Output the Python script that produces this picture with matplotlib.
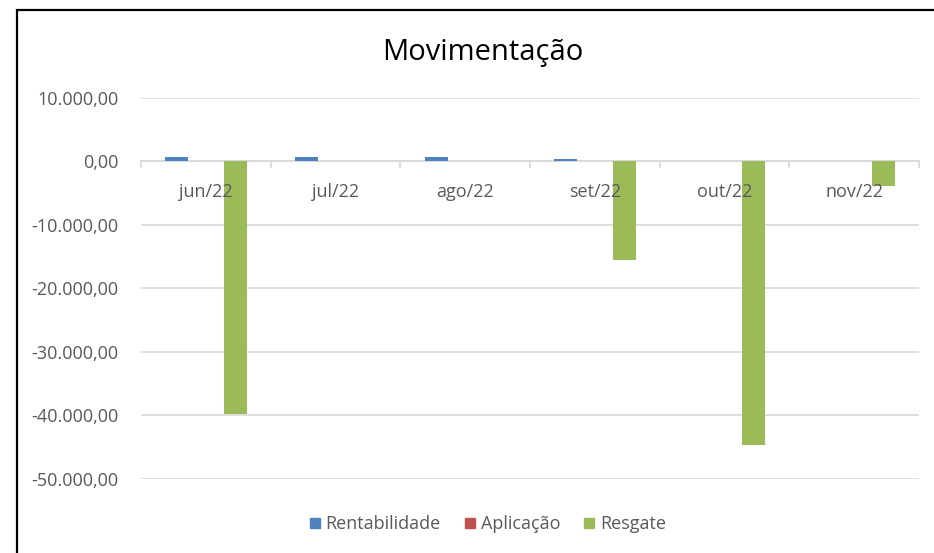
import numpy as np
import matplotlib.pyplot as plt
from matplotlib.ticker import FuncFormatter
from matplotlib.patches import Rectangle
from matplotlib.lines import Line2D

meses = ['jun/22', 'jul/22', 'ago/22', 'set/22', 'out/22', 'nov/22']
rentabilidade = [650, 650, 650, 350, 80, 80]
aplicacao = [0, 0, 0, 0, 0, 0]
resgate = [-39800, 0, 0, -15460, -44650, -3860]

series = ['Rentabilidade', 'Aplicação', 'Resgate']
cores = ['#4f81bd', '#c0504d', '#9bbb59']

plt.rcParams['font.family'] = ['Open Sans', 'DejaVu Sans']
cinza = '#595959'

fig = plt.figure(figsize=(9.34, 5.53), dpi=100)
ax = fig.add_axes([0.151, 0.134, 0.833, 0.689])

x = np.arange(len(meses))
larg = 0.177
desl = 0.225
for i, (vals, cor) in enumerate(zip([rentabilidade, aplicacao, resgate], cores)):
    ax.bar(x + (i - 1) * desl, vals, width=larg, color=cor, zorder=3)

ax.set_xlim(-0.5, len(meses) - 0.5)
ax.set_ylim(-50000, 10000)
ax.set_yticks(np.arange(-50000, 10001, 10000))

def fmt(v, pos):
    s = '{:,.2f}'.format(v)
    return s.replace(',', 'X').replace('.', ',').replace('X', '.')

ax.yaxis.set_major_formatter(FuncFormatter(fmt))
ax.grid(axis='y', color='#d9d9d9', linewidth=1.2, zorder=0)
ax.tick_params(axis='y', length=0, labelsize=13, labelcolor=cinza, pad=16)

for s in ['top', 'right', 'left']:
    ax.spines[s].set_visible(False)
ax.spines['bottom'].set_position(('data', 0))
ax.spines['bottom'].set_color('#d9d9d9')
ax.spines['bottom'].set_linewidth(1.2)

# rótulos do eixo x por cima das barras
ax.set_xticks(x)
ax.set_xticklabels([])
ax.set_xticks(np.arange(-0.5, len(meses), 1), minor=True)
ax.tick_params(axis='x', which='major', length=0)
ax.tick_params(axis='x', which='minor', length=5, color='#d9d9d9', width=1.2)
for xi, m in zip(x, meses):
    ax.annotate(m, (xi, 0), xytext=(0, -22), textcoords='offset points', ha='center',
                va='center', fontsize=13, color=cinza, zorder=10)

fig.text(0.517, 0.905, 'Movimentação', ha='center', va='center', fontsize=21, color='black')

handles = [Line2D([], [], marker='s', linestyle='', color=c, markersize=7.5) for c in cores]
fig.legend(handles, series, loc='center', bbox_to_anchor=(0.522, 0.052), ncol=3,
           frameon=False, fontsize=13, labelcolor=cinza, handlelength=0.6,
           handletextpad=0.3, columnspacing=1.3)

# moldura do gráfico (borda esquerda e superior)
fig.patches.append(Rectangle((16.5 / 934, -0.05), 1.2, 1.05 - 9.5 / 553, transform=fig.transFigure,
                             fill=False, edgecolor='black', linewidth=1.6))

fig.savefig('out.png', dpi=100)
